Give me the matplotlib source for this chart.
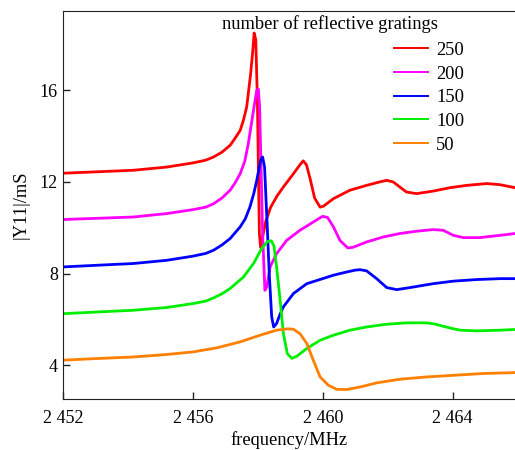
import matplotlib
matplotlib.use('Agg')
import matplotlib.pyplot as plt
from matplotlib.lines import Line2D

plt.rcParams['font.family'] = ['Liberation Serif', 'DejaVu Serif']
plt.rcParams['font.size'] = 13.3

# |Y11| curves, frequency in MHz, admittance in mS
f_250 = [2452, 2453, 2454.17, 2455.2, 2456, 2456.4, 2456.64, 2456.9, 2457.15, 2457.3,
         2457.46, 2457.56, 2457.66, 2457.78, 2457.84, 2457.89, 2457.94, 2457.99, 2458.05, 2458.09,
         2458.15, 2458.25, 2458.4, 2458.6, 2458.8, 2459.1, 2459.3, 2459.4, 2459.5, 2459.62,
         2459.75, 2459.92, 2460.02, 2460.33, 2460.84, 2461.35, 2461.75, 2461.97, 2462.17, 2462.4,
         2462.58, 2462.89, 2463.4, 2463.92, 2464.43, 2465.05, 2465.46, 2465.92]
y_250 = [12.38, 12.44, 12.51, 12.65, 12.83, 12.95, 13.09, 13.3, 13.6, 13.9,
         14.25, 14.7, 15.27, 16.7, 17.6, 18.5, 18.2, 15.56, 9.75, 9.14,
         9.6, 10.3, 10.9, 11.4, 11.8, 12.36, 12.75, 12.92, 12.75, 12.1,
         11.3, 10.9, 10.94, 11.27, 11.64, 11.85, 12.0, 12.07, 12.0, 11.75,
         11.56, 11.49, 11.6, 11.75, 11.85, 11.93, 11.88, 11.75]

f_200 = [2452, 2453, 2454.17, 2455.2, 2456, 2456.4, 2456.64, 2456.9, 2457.15, 2457.3,
         2457.46, 2457.6, 2457.71, 2457.87, 2457.97, 2458.02, 2458.06, 2458.09, 2458.15, 2458.22,
         2458.28, 2458.38, 2458.58, 2458.89, 2459.3, 2459.71, 2459.9, 2460.0, 2460.15, 2460.33,
         2460.53, 2460.77, 2460.94, 2461.35, 2461.87, 2462.38, 2462.89, 2463.4, 2463.71, 2464.02,
         2464.33, 2464.84, 2465.46, 2465.92]
y_200 = [10.36, 10.41, 10.47, 10.62, 10.79, 10.9, 11.05, 11.3, 11.64, 11.95,
         12.36, 12.9, 13.67, 15.13, 16.0, 16.05, 15.2, 13.38, 9.75, 7.27,
         7.42, 8.29, 8.87, 9.45, 9.89, 10.25, 10.42, 10.5, 10.45, 10.04,
         9.45, 9.12, 9.15, 9.38, 9.6, 9.75, 9.85, 9.92, 9.89, 9.67,
         9.57, 9.57, 9.67, 9.75]

f_150 = [2452, 2453, 2454.17, 2455.2, 2456, 2456.4, 2456.64, 2456.9, 2457.15, 2457.46,
         2457.62, 2457.76, 2457.88, 2457.97, 2458.09, 2458.15, 2458.21, 2458.28, 2458.36, 2458.43,
         2458.49, 2458.58, 2458.68, 2458.79, 2459.1, 2459.51, 2460.0, 2460.33, 2460.74, 2461.0,
         2461.15, 2461.35, 2461.66, 2461.97, 2462.28, 2462.69, 2463.4, 2464.02, 2464.74, 2465.46,
         2465.92]
y_150 = [8.29, 8.36, 8.44, 8.58, 8.76, 8.88, 9.02, 9.25, 9.53, 10.04,
         10.4, 10.91, 11.5, 12.07, 12.95, 13.09, 12.65, 10.47, 7.85, 6.11,
         5.67, 5.82, 6.2, 6.55, 7.13, 7.56, 7.78, 7.93, 8.07, 8.15,
         8.17, 8.12, 7.78, 7.39, 7.3, 7.39, 7.56, 7.67, 7.74, 7.78,
         7.78]

f_100 = [2452, 2453, 2454.17, 2455.2, 2456, 2456.4, 2456.64, 2456.9, 2457.15, 2457.56,
         2457.87, 2458.12, 2458.3, 2458.42, 2458.5, 2458.58, 2458.69, 2458.79, 2458.91, 2459.05,
         2459.2, 2459.51, 2459.92, 2460.33, 2460.84, 2461.35, 2461.97, 2462.58, 2463.2, 2463.45,
         2463.71, 2464.0, 2464.23, 2464.74, 2465.46, 2465.92]
y_100 = [6.25, 6.32, 6.4, 6.52, 6.69, 6.8, 6.94, 7.12, 7.35, 7.85,
         8.44, 9.09, 9.4, 9.43, 9.2, 8.29, 6.84, 5.38, 4.51, 4.3,
         4.39, 4.73, 5.09, 5.31, 5.53, 5.67, 5.79, 5.85, 5.85, 5.8,
         5.7, 5.6, 5.53, 5.5, 5.53, 5.56]

f_50 = [2452, 2453, 2454.17, 2455.2, 2456, 2456.74, 2457.46, 2458.07, 2458.58, 2458.92,
        2459.1, 2459.3, 2459.51, 2459.71, 2459.92, 2460.17, 2460.43, 2460.74, 2461.15, 2461.66,
        2462.38, 2463.2, 2464.02, 2464.94, 2465.92]
y_50 = [4.22, 4.29, 4.36, 4.47, 4.58, 4.76, 5.02, 5.31, 5.53, 5.59,
        5.57, 5.38, 4.95, 4.22, 3.49, 3.13, 2.95, 2.94, 3.05, 3.23,
        3.39, 3.49, 3.56, 3.64, 3.68]

labels = ['250', '200', '150', '100', '50']
colors = ['#ff0000', '#ff00ff', '#0000ff', '#00ee00', '#ff8000']
series = [(f_250, y_250), (f_200, y_200), (f_150, y_150), (f_100, y_100), (f_50, y_50)]

fig = plt.figure(figsize=(5.15, 4.5), dpi=100)
ax = fig.add_axes([0.122, 0.113, 0.878, 0.862])

for (f, y), c in zip(series, colors):
    ax.plot(f, y, color=c, lw=2.0, solid_joinstyle='round')

ax.set_xlim(2452, 2465.92)
ax.set_ylim(2.52, 19.45)
ax.set_xticks([2452, 2456, 2460, 2464])
ax.set_xticklabels(['2 452', '2 456', '2 460', '2 464'], fontsize=13)
ax.set_yticks([4, 8, 12, 16])
ax.set_yticklabels(['4', '8', '12', '16'], fontsize=13)
ax.tick_params(direction='in', length=5, width=1, colors='#222222', labelcolor='black')
ax.tick_params(axis='x', pad=8)
ax.spines['right'].set_visible(False)
for s in ['left', 'bottom', 'top']:
    ax.spines[s].set_color('#222222')
ax.set_xlabel('frequency/MHz', labelpad=3)
ax.set_ylabel('|Y11|/mS', labelpad=7)

ax.text(0.353, 0.966, 'number of reflective gratings', transform=ax.transAxes,
        ha='left', va='center')
handles = [Line2D([], [], color=c, lw=1.4) for c in colors]
ax.legend(handles, labels, loc='upper left', bbox_to_anchor=(0.715, 0.94), frameon=False,
          handlelength=1.85, handletextpad=0.45, labelspacing=0.36, borderaxespad=0)

fig.savefig('out.png', dpi=100)
